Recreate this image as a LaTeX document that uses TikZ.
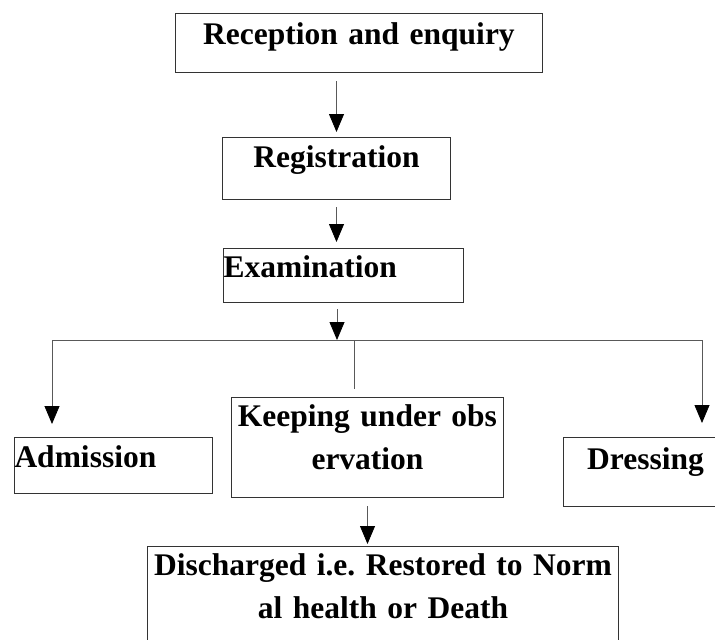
\documentclass[tikz,border=0pt]{standalone}
\usepackage{fontspec}
\setmainfont{Liberation Serif}
\usepackage{tikz}
\usetikzlibrary{arrows.meta}
\frenchspacing

\tikzset{
  stage/.style={draw=black!80, line width=1pt, inner sep=0pt, anchor=north west,
    font=\bfseries\fontsize{31.5}{42.5}\selectfont},
  flow/.style={draw=black!65, line width=0.8pt, -{Triangle[length=18pt,width=15pt,color=black]}},
  line/.style={draw=black!65, line width=0.8pt}
}

\begin{document}
\begin{tikzpicture}[x=1pt,y=-1pt]
\path[use as bounding box, clip] (0,0) rectangle (715,640);

\node[stage, text width=367pt, align=center, text height=31pt, text depth=28pt] (rec) at (175,13) {Reception and enquiry};
\node[stage, text width=228pt, align=center, text height=30pt, text depth=32pt] (reg) at (222,137) {Registration};
\node[stage, text width=240pt, align=left, text height=29pt, text depth=25pt] (exam) at (223,248) {Examination};
\node[stage, text width=198pt, align=left, text height=30pt, text depth=26pt] (adm) at (14,437) {Admission};
\node[stage, text width=272pt, align=center, text height=29pt, text depth=71pt] (keep) at (231,397) {Keeping under obs\\ ervation};
\node[stage, text width=164pt, align=center, text height=32pt, text depth=37pt] (dress) at (563,437) {Dressing};
\node[stage, text width=471pt, align=center, text height=29pt, text depth=90pt] (dis) at (147,546) {Discharged i.e. Restored to Norm\\ al health or Death};

\coordinate (split) at (337,340);
\coordinate (busL) at (52,340);
\coordinate (busR) at (702,340);
\coordinate (stub) at (354,340);

\draw[flow, shorten <=8pt, shorten >=5pt] (reg.north |- rec.south) -- (reg.north);
\draw[flow, shorten <=7pt, shorten >=6pt] (reg.south) -- (reg.south |- exam.north);
\draw[flow, shorten <=6pt] (split |- exam.south) -- (split);
\draw[line] (busL) -- (busR);
\draw[flow, shorten >=13pt] (busL) -- (busL |- adm.north);
\draw[flow, shorten >=14pt] (busR) -- (busR |- dress.north);
\draw[line, shorten >=8pt] (stub) -- (stub |- keep.north);
\draw[flow, shorten <=8pt, shorten >=2pt] (keep.south) -- (keep.south |- dis.north);
\end{tikzpicture}
\end{document}
